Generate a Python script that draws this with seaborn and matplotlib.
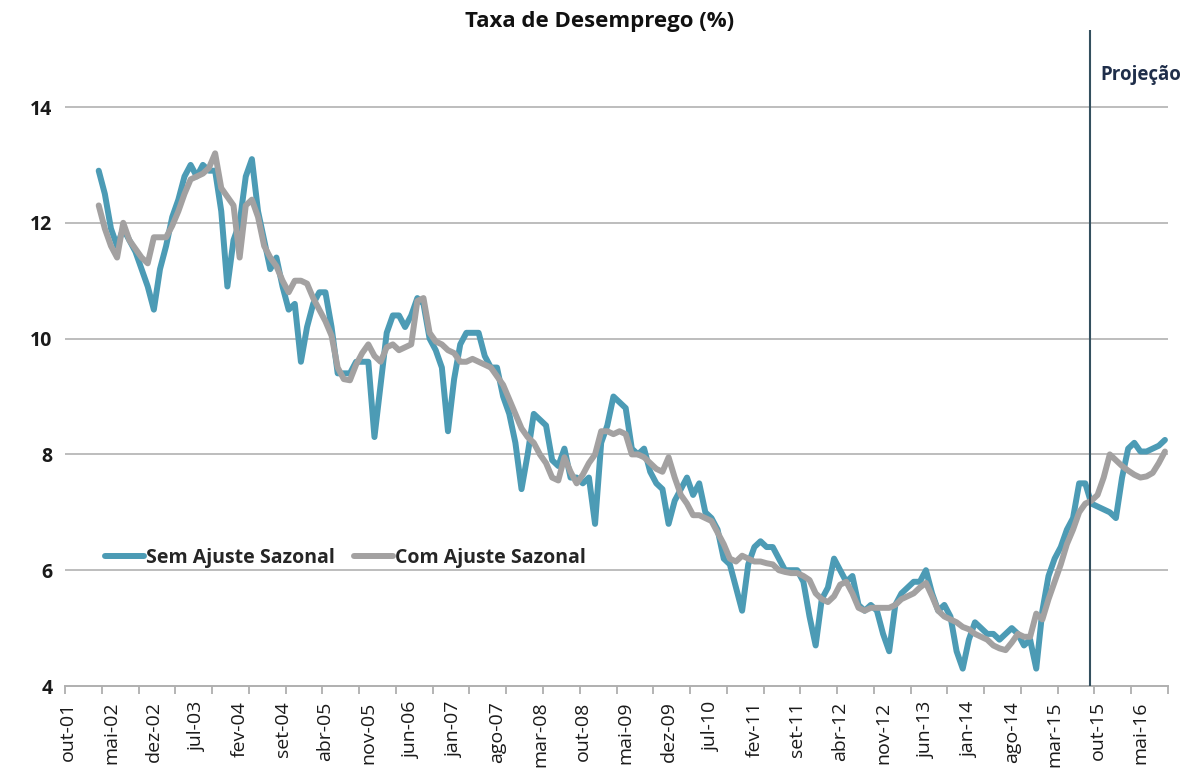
import numpy as np
import pandas as pd
import matplotlib
matplotlib.use("Agg")
import matplotlib.pyplot as plt
import seaborn as sns

# Category axis: monthly slots from out-01 to set-16, labelled every 7 months
n_slots = 180
tick_labels = ["out-01", "mai-02", "dez-02", "jul-03", "fev-04", "set-04", "abr-05",
               "nov-05", "jun-06", "jan-07", "ago-07", "mar-08", "out-08", "mai-09",
               "dez-09", "jul-10", "fev-11", "set-11", "abr-12", "nov-12", "jun-13",
               "jan-14", "ago-14", "mar-15", "out-15", "mai-16"]
first_slot = 5          # mar-02
projection_slot = 166.8  # boundary between actual data and projection

# Unemployment rate (%), without seasonal adjustment, mar-02 .. set-16
sem_ajuste = [
    12.9, 12.5, 11.9, 11.6, 11.9, 11.7, 11.5, 11.2, 10.9, 10.5,
    11.2, 11.6, 12.1, 12.4, 12.8, 13.0, 12.8, 13.0, 12.9, 12.9, 12.2, 10.9,
    11.7, 12.0, 12.8, 13.1, 12.2, 11.7, 11.2, 11.4, 10.9, 10.5, 10.6, 9.6,
    10.2, 10.6, 10.8, 10.8, 10.2, 9.4, 9.4, 9.4, 9.6, 9.6, 9.6, 8.3,
    9.2, 10.1, 10.4, 10.4, 10.2, 10.4, 10.7, 10.6, 10.0, 9.8, 9.5, 8.4,
    9.3, 9.9, 10.1, 10.1, 10.1, 9.7, 9.5, 9.5, 9.0, 8.7, 8.2, 7.4,
    8.0, 8.7, 8.6, 8.5, 7.9, 7.8, 8.1, 7.6, 7.6, 7.5, 7.6, 6.8,
    8.2, 8.5, 9.0, 8.9, 8.8, 8.1, 8.0, 8.1, 7.7, 7.5, 7.4, 6.8,
    7.2, 7.4, 7.6, 7.3, 7.5, 7.0, 6.9, 6.7, 6.2, 6.1, 5.7, 5.3,
    6.1, 6.4, 6.5, 6.4, 6.4, 6.2, 6.0, 6.0, 6.0, 5.8, 5.2, 4.7,
    5.5, 5.7, 6.2, 6.0, 5.8, 5.9, 5.4, 5.3, 5.4, 5.3, 4.9, 4.6,
    5.4, 5.6, 5.7, 5.8, 5.8, 6.0, 5.6, 5.3, 5.4, 5.2, 4.6, 4.3,
    4.8, 5.1, 5.0, 4.9, 4.9, 4.8, 4.9, 5.0, 4.9, 4.7, 4.8, 4.3,
    5.3, 5.9, 6.2, 6.4, 6.7, 6.9, 7.5, 7.5, 7.15, 7.1, 7.05, 7.0,
    6.9, 7.6, 8.1, 8.2, 8.05, 8.05, 8.1, 8.15, 8.25,
]

# Unemployment rate (%), seasonally adjusted, mar-02 .. set-16
com_ajuste = [
    12.3, 11.9, 11.6, 11.4, 12.0, 11.7, 11.55, 11.4, 11.3, 11.75,
    11.75, 11.75, 11.95, 12.2, 12.5, 12.75, 12.8, 12.85, 12.95, 13.2, 12.6, 12.45,
    12.3, 11.4, 12.3, 12.4, 12.1, 11.6, 11.4, 11.25, 11.0, 10.8, 11.0, 11.0,
    10.95, 10.7, 10.5, 10.3, 10.05, 9.5, 9.3, 9.28, 9.55, 9.75, 9.9, 9.7,
    9.6, 9.85, 9.9, 9.8, 9.85, 9.9, 10.65, 10.7, 10.1, 9.95, 9.9, 9.8,
    9.75, 9.6, 9.6, 9.65, 9.6, 9.55, 9.5, 9.35, 9.2, 8.95, 8.7, 8.45,
    8.3, 8.2, 8.0, 7.85, 7.6, 7.55, 7.95, 7.7, 7.5, 7.65, 7.85, 8.0,
    8.4, 8.4, 8.35, 8.4, 8.35, 8.0, 8.0, 7.95, 7.85, 7.75, 7.7, 7.95,
    7.6, 7.3, 7.15, 6.95, 6.95, 6.9, 6.85, 6.65, 6.45, 6.2, 6.15, 6.25,
    6.2, 6.15, 6.15, 6.12, 6.1, 6.0, 5.97, 5.95, 5.95, 5.9, 5.83, 5.6,
    5.5, 5.45, 5.55, 5.75, 5.8, 5.6, 5.35, 5.3, 5.35, 5.35, 5.35, 5.35,
    5.4, 5.5, 5.55, 5.6, 5.7, 5.78, 5.55, 5.3, 5.2, 5.15, 5.1, 5.02,
    4.98, 4.9, 4.85, 4.8, 4.7, 4.65, 4.62, 4.75, 4.9, 4.85, 4.85, 5.25,
    5.15, 5.5, 5.8, 6.1, 6.45, 6.7, 7.0, 7.15, 7.2, 7.3, 7.6, 8.0,
    7.9, 7.8, 7.72, 7.65, 7.6, 7.62, 7.68, 7.85, 8.05,
]

series_names = ["Sem Ajuste Sazonal", "Com Ajuste Sazonal"]
colors = {"Sem Ajuste Sazonal": "#4C9BB5", "Com Ajuste Sazonal": "#A3A1A1"}

slots = np.arange(first_slot, first_slot + len(sem_ajuste))
df = pd.DataFrame({
    "mes": np.concatenate([slots, slots]),
    "taxa": sem_ajuste + com_ajuste,
    "serie": [series_names[0]] * len(sem_ajuste) + [series_names[1]] * len(com_ajuste),
})

sns.set_theme(style="white")
plt.rcParams["font.family"] = ["Open Sans", "DejaVu Sans"]

W, H = 1195, 771
fig = plt.figure(figsize=(W / 100, H / 100), dpi=100)
ax = fig.add_axes([65 / W, 85 / H, 1103 / W, 656 / H])

sns.lineplot(data=df, x="mes", y="taxa", hue="serie", hue_order=series_names,
             palette=colors, linewidth=4.3, ax=ax, legend=False,
             solid_capstyle="round", solid_joinstyle="round")

ax.set_xlim(-0.5, n_slots - 0.5)
ax.set_ylim(4, 15.33)

# Horizontal gridlines
ax.set_yticks([4, 6, 8, 10, 12, 14])
for v in [6, 8, 10, 12, 14]:
    ax.axhline(v, color="#BDBDBD", lw=1.4, zorder=0)

for s in ["left", "top", "right"]:
    ax.spines[s].set_visible(False)
ax.spines["bottom"].set_color("#AFAFAF")
ax.spines["bottom"].set_linewidth(1.4)

ax.tick_params(axis="y", length=0, pad=9, labelsize=14, labelcolor="#1A1A1A")
for t in ax.get_yticklabels():
    t.set_fontweight("bold")

# Labels every 7 months, tick marks every 6 slots
ax.set_xticks(np.arange(0, 7 * len(tick_labels), 7))
ax.set_xticklabels(tick_labels, rotation=90, fontsize=14, color="#1A1A1A")
ax.set_xticks(np.arange(-0.5, n_slots, 6), minor=True)
ax.tick_params(axis="x", which="major", length=0, pad=11)
ax.tick_params(axis="x", which="minor", length=6, width=1.3, color="#AFAFAF",
               direction="out", bottom=True)
ax.set_xlabel("")
ax.set_ylabel("")

# Start of projection
ax.axvline(projection_slot, color="#34505F", lw=1.5, zorder=5)
fig.text(1100 / W, 1 - 75 / H, "Projeção", ha="left", va="center",
         fontsize=13.5, fontweight="bold", color="#1F2E4A")

fig.text(600 / W, 1 - 22 / H, "Taxa de Desemprego (%)", ha="center", va="center",
         fontsize=16, fontweight="bold", color="#111111")

handles = [plt.Line2D([], [], color=colors[n], lw=4.3) for n in series_names]
ax.legend(handles, series_names, loc="center left", bbox_to_anchor=(0.036, 0.195),
          ncol=2, frameon=False, borderaxespad=0, borderpad=0, handlelength=2.0,
          handletextpad=0.1, columnspacing=1.0,
          prop={"family": ["Open Sans", "DejaVu Sans"], "weight": "bold", "size": 14})

fig.savefig("out.png", dpi=100, facecolor="white")
